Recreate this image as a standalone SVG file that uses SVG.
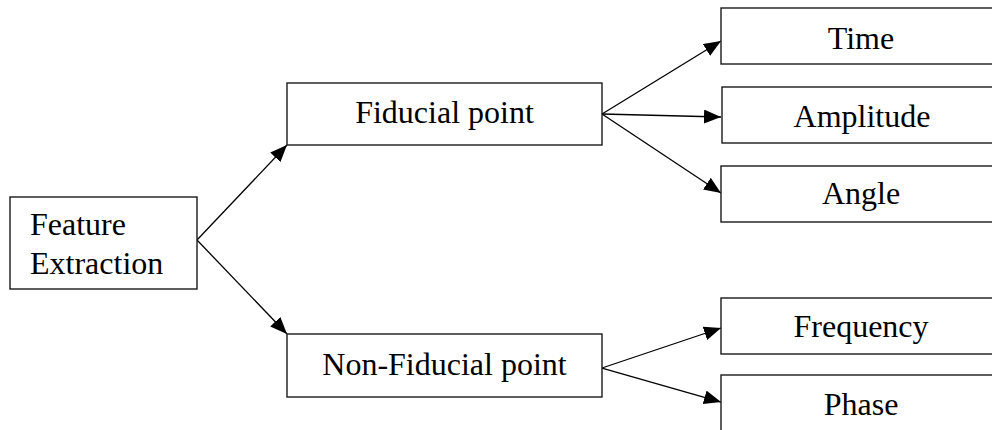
<svg xmlns="http://www.w3.org/2000/svg" width="992" height="430" viewBox="0 0 992 430">
  <style>
    .box { fill: #ffffff; stroke: #1a1a1a; stroke-width: 1.4; }
    .lbl { font-family: "Liberation Serif", "Times New Roman", serif; font-size: 32px; fill: #000000; }
    .mid { text-anchor: middle; }
    .edge { fill: none; stroke: #000000; stroke-width: 1.3; marker-end: url(#arrow); }
  </style>
  <defs>
    <marker id="arrow" markerUnits="userSpaceOnUse" markerWidth="18" markerHeight="14" refX="17" refY="7" orient="auto">
      <path d="M0,0 L17,7 L0,14 Z" fill="#000000"/>
    </marker>
  </defs>

  <rect width="992" height="430" fill="#ffffff"/>

  <g id="connectors">
    <line class="edge" x1="197" y1="240" x2="287" y2="145"/>
    <line class="edge" x1="197" y1="240" x2="287" y2="334"/>
    <line class="edge" x1="602" y1="114" x2="721" y2="41"/>
    <line class="edge" x1="602" y1="114" x2="721" y2="117"/>
    <line class="edge" x1="602" y1="114" x2="721" y2="193"/>
    <line class="edge" x1="602" y1="368" x2="721" y2="328"/>
    <line class="edge" x1="602" y1="368" x2="721" y2="402"/>
  </g>

  <g id="feature-extraction">
    <rect class="box" x="10" y="197" width="187" height="92"/>
    <text class="lbl" x="30" y="235">Feature</text>
    <text class="lbl" x="30" y="274">Extraction</text>
  </g>

  <g id="fiducial-point">
    <rect class="box" x="287" y="83" width="315" height="62"/>
    <text class="lbl mid" x="444.5" y="123">Fiducial point</text>
  </g>

  <g id="non-fiducial-point">
    <rect class="box" x="287" y="334" width="315" height="63"/>
    <text class="lbl mid" x="444.5" y="375">Non-Fiducial point</text>
  </g>

  <g id="time">
    <rect class="box" x="721" y="8" width="280" height="56"/>
    <text class="lbl mid" x="861" y="49">Time</text>
  </g>

  <g id="amplitude">
    <rect class="box" x="722" y="87" width="280" height="56"/>
    <text class="lbl mid" x="862" y="127">Amplitude</text>
  </g>

  <g id="angle">
    <rect class="box" x="721" y="166" width="280" height="56"/>
    <text class="lbl mid" x="861" y="204">Angle</text>
  </g>

  <g id="frequency">
    <rect class="box" x="721" y="298" width="280" height="56"/>
    <text class="lbl mid" x="861" y="337">Frequency</text>
  </g>

  <g id="phase">
    <rect class="box" x="721" y="375" width="280" height="60"/>
    <text class="lbl mid" x="861" y="415">Phase</text>
  </g>
</svg>
